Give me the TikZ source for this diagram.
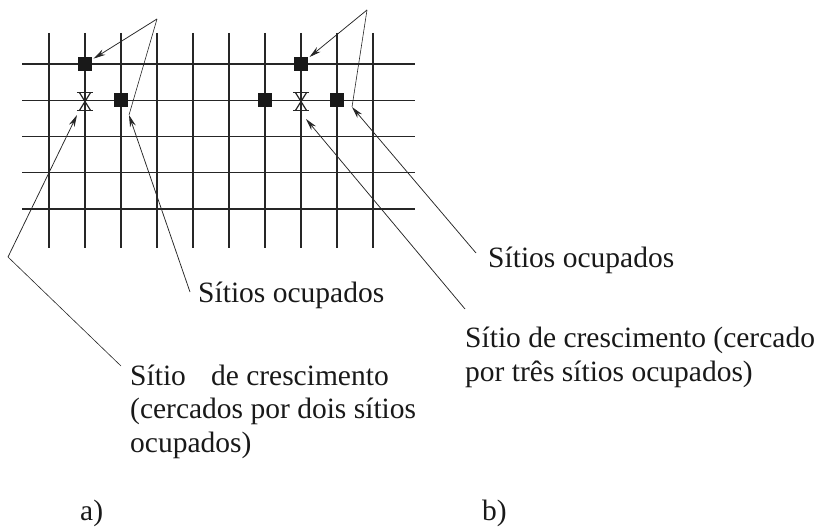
\documentclass[tikz,border=0pt]{standalone}
\usepackage{fontspec}
\setmainfont{Liberation Serif}
\usetikzlibrary{arrows.meta,calc}
\begin{document}
\begin{tikzpicture}[x=1pt,y=-1pt,
  gridline/.style={line width=1.3pt,black!85},
  site/.style={fill=black!90,minimum size=13.5pt,inner sep=0pt,draw=none},
  growth/.style={minimum width=16pt,minimum height=18pt,inner sep=0pt},
  xline/.style={line width=1.2pt,black!85},
  arrowline/.style={line width=0.75pt,black!85,-{Stealth[length=12pt,width=6pt]}},
  leader/.style={line width=0.6pt,black!85},
  lbl/.style={font=\fontsize{29.5}{34}\selectfont,text=black!90,anchor=base west,inner sep=0pt}]
\useasboundingbox (0,0) rectangle (825,527);
% grid
\foreach \k in {0,...,9}{\draw[gridline] (49+36*\k,33) -- (49+36*\k,248);}
\foreach \k in {0,...,4}{\draw[gridline] (22,64+36.25*\k) -- (415,64+36.25*\k);}
% occupied sites
\node[site] (s1) at (85,64) {};
\node[site] (s2) at (121,100.25) {};
\node[site] (s3) at (265,100.25) {};
\node[site] (s4) at (301,64) {};
\node[site] (s5) at (337,100.25) {};
% growth sites
\foreach \g/\x in {g1/85,g2/301}{
  \node[growth] (\g) at (\x,101.5) {};
  \draw[xline] (\g.north west) -- (\g.north east);
  \draw[xline] (\g.south west) -- (\g.south east);
  \draw[xline] ($(\g.north west)+(2.5,0)$) -- ($(\g.south east)+(-2.5,0)$);
  \draw[xline] ($(\g.north east)+(-2.5,0)$) -- ($(\g.south west)+(2.5,0)$);
}
% labels
\node[lbl] (lo1) at (198,302) {Sítios ocupados};
\node[lbl] (lc1) at (130,385) {Sítio\hspace{0.6em} de crescimento};
\node[lbl] (lc1b) at (130,418) {(cercados por dois sítios};
\node[lbl] (lc1c) at (130,452) {ocupados)};
\node[lbl] (lo2) at (488,267) {Sítios ocupados};
\node[lbl] (lc2) at (465,347) {Sítio de crescimento (cercado};
\node[lbl] (lc2b) at (465,381) {por três sítios ocupados)};
\node[lbl] (la) at (80,520) {a)};
\node[lbl] (lb) at (482,520) {b)};
% connector points
\coordinate (a1) at (157,19);
\coordinate (a2) at (367,10);
\coordinate (c1) at (129,115);
\coordinate (c2) at (352,107);
\coordinate (c3) at (306,119);
\coordinate (c4) at (77,115);
\coordinate (b1) at (8,257);
\coordinate (e1) at (190,292);
\coordinate (e2) at (121,366);
\coordinate (e3) at (476,253);
\coordinate (e4) at (465,309);
% connectors
\draw[arrowline,shorten >=2pt] (a1) -- (s1);
\draw[leader] (a1) -- (c1);
\draw[arrowline] (e1) -- (c1);
\draw[arrowline] (b1) -- (c4);
\draw[leader] (b1) -- (e2);
\draw[arrowline,shorten >=2pt] (a2) -- (s4);
\draw[leader] (a2) -- (c2);
\draw[arrowline] (e3) -- (c2);
\draw[arrowline] (e4) -- (c3);
\end{tikzpicture}
\end{document}
